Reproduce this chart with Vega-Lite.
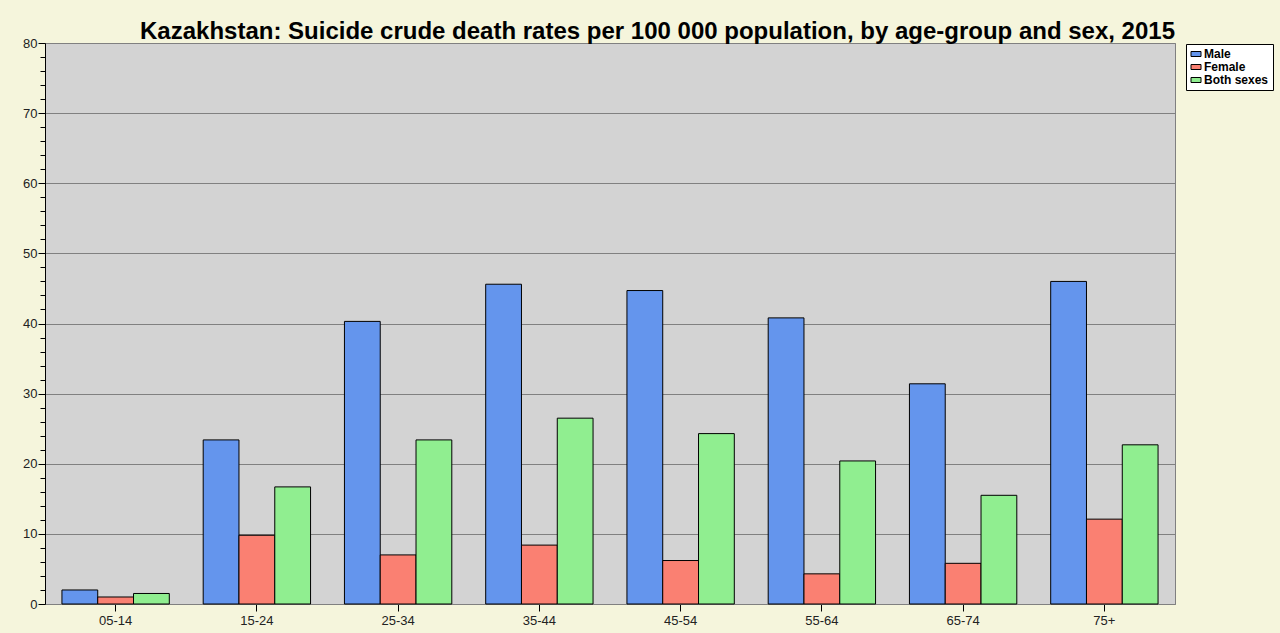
{
  "$schema": "https://vega.github.io/schema/vega-lite/v6.json",
  "width": 1130,
  "height": 561,
  "autosize": {"type": "none"},
  "padding": {"left": 45, "top": 43, "right": 105, "bottom": 29},
  "background": "#F5F5DC",
  "config": {
    "font": "Liberation Sans",
    "view": {"fill": "#D3D3D3", "stroke": "#808080", "strokeWidth": 1}
  },
  "title": {
    "text": "Kazakhstan: Suicide crude death rates per 100 000 population, by age-group and sex, 2015",
    "anchor": "end",
    "frame": "group",
    "fontSize": 24,
    "fontWeight": "bold",
    "color": "#000000",
    "offset": -7
  },
  "data": {
    "values": [
      {"age": "05-14", "sex": "Male", "rate": 2.0},
      {"age": "05-14", "sex": "Female", "rate": 1.0},
      {"age": "05-14", "sex": "Both sexes", "rate": 1.5},
      {"age": "15-24", "sex": "Male", "rate": 23.4},
      {"age": "15-24", "sex": "Female", "rate": 9.8},
      {"age": "15-24", "sex": "Both sexes", "rate": 16.7},
      {"age": "25-34", "sex": "Male", "rate": 40.3},
      {"age": "25-34", "sex": "Female", "rate": 7.0},
      {"age": "25-34", "sex": "Both sexes", "rate": 23.4},
      {"age": "35-44", "sex": "Male", "rate": 45.6},
      {"age": "35-44", "sex": "Female", "rate": 8.4},
      {"age": "35-44", "sex": "Both sexes", "rate": 26.5},
      {"age": "45-54", "sex": "Male", "rate": 44.7},
      {"age": "45-54", "sex": "Female", "rate": 6.2},
      {"age": "45-54", "sex": "Both sexes", "rate": 24.3},
      {"age": "55-64", "sex": "Male", "rate": 40.8},
      {"age": "55-64", "sex": "Female", "rate": 4.3},
      {"age": "55-64", "sex": "Both sexes", "rate": 20.4},
      {"age": "65-74", "sex": "Male", "rate": 31.4},
      {"age": "65-74", "sex": "Female", "rate": 5.8},
      {"age": "65-74", "sex": "Both sexes", "rate": 15.5},
      {"age": "75+", "sex": "Male", "rate": 46.0},
      {"age": "75+", "sex": "Female", "rate": 12.1},
      {"age": "75+", "sex": "Both sexes", "rate": 22.7}
    ]
  },
  "layer": [
    {
      "mark": {"type": "bar", "stroke": "#000000", "strokeWidth": 1},
      "encoding": {
        "x": {
          "field": "age",
          "type": "nominal",
          "sort": null,
          "scale": {"paddingInner": 0.24, "paddingOuter": 0.12},
          "axis": {
            "title": null,
            "labelAngle": 0,
            "labelFontSize": 13,
            "labelColor": "#222222",
            "labelPadding": 3,
            "tickSize": 7,
            "tickColor": "#000000",
            "domainColor": "#808080",
            "grid": false
          }
        },
        "xOffset": {
          "field": "sex",
          "type": "nominal",
          "sort": ["Male", "Female", "Both sexes"],
          "scale": {"paddingInner": 0, "paddingOuter": 0}
        },
        "y": {
          "field": "rate",
          "type": "quantitative",
          "scale": {"domain": [0, 80], "nice": false},
          "axis": {
            "title": null,
            "orient": "left",
            "values": [0, 10, 20, 30, 40, 50, 60, 70, 80],
            "labelFontSize": 13,
            "labelColor": "#222222",
            "labelPadding": 1,
            "tickSize": 7,
            "tickColor": "#000000",
            "domainColor": "#000000",
            "grid": true,
            "gridColor": "#808080",
            "gridWidth": 1,
            "gridOpacity": 1
          }
        },
        "fill": {
          "field": "sex",
          "type": "nominal",
          "sort": ["Male", "Female", "Both sexes"],
          "scale": {
            "domain": ["Male", "Female", "Both sexes"],
            "range": ["#6495ED", "#FA8072", "#90EE90"]
          },
          "legend": {
            "title": null,
            "orient": "none",
            "legendX": 1141,
            "legendY": 1,
            "direction": "vertical",
            "symbolType": "M-1,-0.5H1V0.5H-1Z",
            "symbolSize": 100,
            "symbolStrokeColor": "#000000",
            "symbolStrokeWidth": 1,
            "symbolOpacity": 1,
            "labelFontSize": 12,
            "labelFontWeight": "bold",
            "labelColor": "#000000",
            "labelOffset": 2,
            "rowPadding": 1,
            "padding": 4,
            "fillColor": "#FFFFFF",
            "strokeColor": "#000000"
          }
        }
      }
    },
    {
      "mark": {"type": "bar", "opacity": 0},
      "encoding": {
        "x": {"field": "age", "type": "nominal", "sort": null},
        "y": {
          "field": "rate",
          "type": "quantitative",
          "axis": {
            "title": null,
            "orient": "left",
            "values": [2,4,6,8,12,14,16,18,22,24,26,28,32,34,36,38,42,44,46,48,52,54,56,58,62,64,66,68,72,74,76,78],
            "labels": false,
            "tickSize": 5,
            "tickColor": "#000000",
            "domain": false,
            "grid": false
          }
        }
      }
    }
  ],
  "resolve": {"axis": {"y": "independent"}}
}
